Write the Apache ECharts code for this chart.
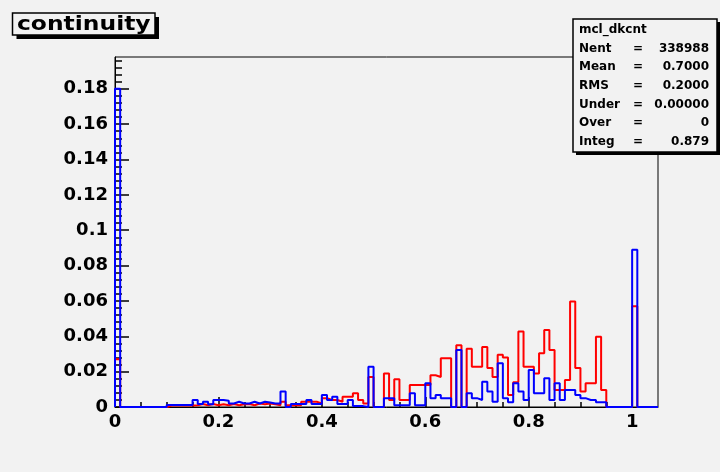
<!DOCTYPE html>
<html>
<head>
<meta charset="utf-8">
<script src="https://cdn.jsdelivr.net/npm/echarts@6/dist/echarts.min.js"></script>
<style>
  html, body { margin: 0; padding: 0; background: #f2f2f2; }
  #chart { width: 720px; height: 472px; }
</style>
</head>
<body>
<div id="chart"></div>
<script>
// Histogram binning: 105 bins of width 0.01 covering [0, 1.05)
const binWidth = 0.01;
const xMax = 1.05;
const yMax = 0.198;

// Red histogram, bin contents from x = 0 upward
const redCounts = [
  0.027, 0, 0, 0, 0, 0, 0, 0, 0, 0,
  0.0008, 0.0008, 0.0008, 0.0008, 0.0008, 0.001, 0.0017, 0.001, 0.0017, 0.001,
  0.0015, 0.001, 0.0017, 0.001, 0.0015, 0.0017, 0.001, 0.002, 0.0015, 0.002,
  0.0015, 0.001, 0.003, 0.001, 0.001, 0.001, 0.003, 0.003, 0.003, 0.002,
  0.005, 0.004, 0.004, 0.003, 0.0058, 0.0058, 0.0078, 0.004, 0.002, 0.017,
  0, 0, 0.019, 0.004, 0.0157, 0.004, 0.004, 0.0125, 0.0125, 0.0125,
  0.0125, 0.018, 0.017, 0.0276, 0.0276, 0, 0.035, 0, 0.033, 0.0228,
  0.0228, 0.034, 0.022, 0.017, 0.0295, 0.028, 0.0068, 0.014, 0.0427, 0.0228,
  0.0228, 0.019, 0.0304, 0.0436, 0.0323, 0.0096, 0.0096, 0.0153, 0.0597, 0.022,
  0.0087, 0.0134, 0.0134, 0.0398, 0.0096, 0, 0, 0, 0, 0,
  0.057, 0, 0, 0, 0
];

// Blue histogram, bin contents from x = 0 upward
const blueCounts = [
  0.18, 0, 0, 0, 0, 0, 0, 0, 0, 0,
  0.0012, 0.0012, 0.0012, 0.0012, 0.0012, 0.004, 0.0017, 0.003, 0.0015, 0.004,
  0.004, 0.0036, 0.002, 0.003, 0.002, 0.002, 0.003, 0.002, 0.003, 0.0025,
  0.002, 0.002, 0.0087, 0, 0.0017, 0.0017, 0.0017, 0.004, 0.0017, 0.0017,
  0.0068, 0.004, 0.0058, 0.0017, 0.0017, 0.004, 0.0005, 0.0005, 0, 0.0228,
  0, 0, 0.005, 0.005, 0.001, 0.001, 0.001, 0.0078, 0.001, 0.001,
  0.0134, 0.005, 0.0068, 0.005, 0.005, 0, 0.0323, 0, 0.0078, 0.005,
  0.004, 0.0143, 0.0087, 0.003, 0.0247, 0.005, 0.0027, 0.0134, 0.0087, 0.004,
  0.021, 0.0078, 0.0078, 0.0163, 0.004, 0.0134, 0.004, 0.0096, 0.0096, 0.0068,
  0.005, 0.004, 0.004, 0.0027, 0.0027, 0, 0, 0, 0, 0,
  0.089, 0, 0, 0, 0
];

// Axis tick positions
const xMajorTicks = [0, 0.2, 0.4, 0.6, 0.8, 1];
const xMinorTicks = [0.05, 0.1, 0.15, 0.25, 0.3, 0.35, 0.45, 0.5, 0.55, 0.65, 0.7, 0.75, 0.85, 0.9, 0.95];
const yMajorTicks = [0, 0.02, 0.04, 0.06, 0.08, 0.1, 0.12, 0.14, 0.16, 0.18];
const yMinorStep = 0.004;

// Stats box lines: [name, value]
const statsTitle = 'mcl_dkcnt';
const statsRows = [
  ['Nent', '338988'],
  ['Mean', '0.7000'],
  ['RMS', '0.2000'],
  ['Under', '0.00000'],
  ['Over', '0'],
  ['Integ', '0.879']
];

const yMinorTicks = [];
for (let k = 1; k * yMinorStep < yMax; k++) {
  const v = +(k * yMinorStep).toFixed(3);
  if (Math.abs(v / 0.02 - Math.round(v / 0.02)) > 1e-6) yMinorTicks.push(v);
}

// Outline of a histogram as step points at bin edges
function histOutline(counts) {
  const pts = [[0, 0]];
  counts.forEach((c, i) => pts.push([+(i * binWidth).toFixed(2), c]));
  pts.push([xMax, counts[counts.length - 1]]);
  pts.push([xMax, 0]);
  return pts;
}

const labelFont = {
  color: '#000',
  fontFamily: 'DejaVu Sans',
  fontWeight: 'bold',
  fontSize: 18
};
const fmt = v => String(+(+v).toFixed(3));

const chart = echarts.init(document.getElementById('chart'), null, { renderer: 'canvas' });

const statsGraphics = [];
const boxX = 573, boxY = 19, boxW = 144, boxH = 133;
statsGraphics.push({
  type: 'rect', z: 100,
  shape: { x: boxX + 3, y: boxY + 3, width: boxW, height: boxH },
  style: { fill: '#000' }
});
statsGraphics.push({
  type: 'rect', z: 101,
  shape: { x: boxX, y: boxY, width: boxW, height: boxH },
  style: { fill: '#f2f2f2', stroke: '#000', lineWidth: 1.5 }
});
const statsFont = 'bold 12px "DejaVu Sans"';
statsGraphics.push({
  type: 'text', z: 102, x: boxX + 6, y: 30,
  style: { text: statsTitle, font: statsFont, fill: '#000', verticalAlign: 'middle' }
});
statsRows.forEach((row, i) => {
  const y = 48.7 + i * 18.65;
  statsGraphics.push({
    type: 'text', z: 102, x: boxX + 6, y: y,
    style: { text: row[0], font: statsFont, fill: '#000', verticalAlign: 'middle' }
  });
  statsGraphics.push({
    type: 'text', z: 102, x: boxX + 60, y: y,
    style: { text: '=', font: statsFont, fill: '#000', verticalAlign: 'middle' }
  });
  statsGraphics.push({
    type: 'text', z: 102, x: boxX + 136, y: y,
    style: { text: row[1], font: statsFont, fill: '#000', verticalAlign: 'middle', align: 'right' }
  });
});

chart.setOption({
  animation: false,
  backgroundColor: '#f2f2f2',
  grid: {
    left: 115, right: 62, top: 57, bottom: 65,
    show: true, borderColor: '#000', borderWidth: 1, backgroundColor: 'transparent'
  },
  xAxis: [
    {
      type: 'value', min: 0, max: xMax, position: 'bottom',
      axisLine: { show: true, onZero: false, lineStyle: { color: '#000', width: 1 } },
      axisTick: { show: true, inside: true, length: 10, customValues: xMajorTicks, lineStyle: { color: '#000', width: 1.5 } },
      axisLabel: Object.assign({ margin: 6, customValues: xMajorTicks, formatter: fmt }, labelFont),
      splitLine: { show: false }
    },
    {
      type: 'value', min: 0, max: xMax, position: 'bottom',
      axisLine: { show: false, onZero: false },
      axisTick: { show: true, inside: true, length: 5, customValues: xMinorTicks, lineStyle: { color: '#000', width: 1.5 } },
      axisLabel: { show: false },
      splitLine: { show: false }
    }
  ],
  yAxis: [
    {
      type: 'value', min: 0, max: yMax, position: 'left',
      axisLine: { show: true, onZero: false, lineStyle: { color: '#000', width: 1 } },
      axisTick: { show: true, inside: true, length: 14, customValues: yMajorTicks, lineStyle: { color: '#000', width: 1.5 } },
      axisLabel: Object.assign({ margin: 7, customValues: yMajorTicks, formatter: fmt }, labelFont),
      splitLine: { show: false }
    },
    {
      type: 'value', min: 0, max: yMax, position: 'left',
      axisLine: { show: false, onZero: false },
      axisTick: { show: true, inside: true, length: 7, customValues: yMinorTicks, lineStyle: { color: '#000', width: 1.5 } },
      axisLabel: { show: false },
      splitLine: { show: false }
    }
  ],
  series: [
    {
      name: 'red', type: 'line', step: 'end', xAxisIndex: 0, yAxisIndex: 0,
      data: histOutline(redCounts), showSymbol: false, z: 3,
      lineStyle: { color: '#ff0000', width: 2 }
    },
    {
      name: 'blue', type: 'line', step: 'end', xAxisIndex: 0, yAxisIndex: 0,
      data: histOutline(blueCounts), showSymbol: false, z: 4,
      lineStyle: { color: '#0000ff', width: 2 }
    }
  ],
  graphic: [
    {
      type: 'rect', z: 100,
      shape: { x: 16.5, y: 17, width: 142.5, height: 22 },
      style: { fill: '#000' }
    },
    {
      type: 'rect', z: 101,
      shape: { x: 12.5, y: 13, width: 142.5, height: 22 },
      style: { fill: '#f2f2f2', stroke: '#000', lineWidth: 1.5 }
    },
    {
      type: 'text', z: 102, x: 17, y: 25, scaleX: 1.17,
      style: { text: 'continuity', font: 'bold 20px "DejaVu Sans"', fill: '#000', verticalAlign: 'middle' }
    }
  ].concat(statsGraphics)
});
</script>
</body>
</html>
